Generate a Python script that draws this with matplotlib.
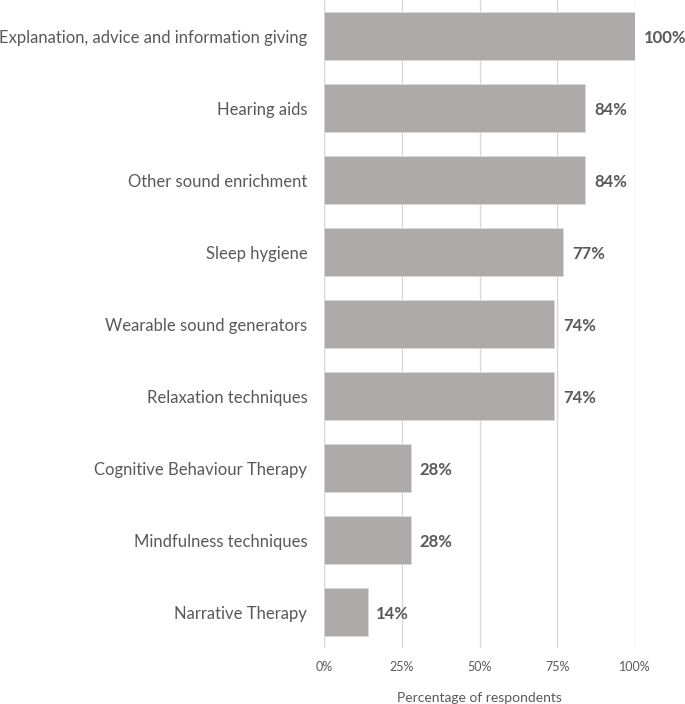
import matplotlib.pyplot as plt
import numpy as np

categories = [
    "Explanation, advice and information giving",
    "Hearing aids",
    "Other sound enrichment",
    "Sleep hygiene",
    "Wearable sound generators",
    "Relaxation techniques",
    "Cognitive Behaviour Therapy",
    "Mindfulness techniques",
    "Narrative Therapy",
]
percent = [100, 84, 84, 77, 74, 74, 28, 28, 14]
xticks = [0, 25, 50, 75, 100]

plt.rcParams['font.family'] = ['Lato', 'DejaVu Sans']
text_col = '#595959'

fig = plt.figure(figsize=(6.85, 7.04), dpi=100)
ax = fig.add_axes([0.473, 0.0795, 0.454, 0.9205])

y = np.arange(len(categories))[::-1]
ax.barh(y, percent, height=0.66, color='#AEAAAA', edgecolor='#D9D9D9', linewidth=0.6, zorder=3)

for yi, v in zip(y, percent):
    ax.text(v + 2.8, yi - 0.03, f"{v}%", va='center', ha='left', fontsize=12,
            fontweight='bold', color=text_col)

ax.set_ylim(-0.5, len(categories) - 0.5)
ax.set_xlim(0, 100)
ax.set_yticks(y)
ax.set_yticklabels(categories, fontsize=12, color=text_col)
ax.set_xticks(xticks)
ax.set_xticklabels([f"{t}%" for t in xticks], fontsize=9, color=text_col)
ax.tick_params(axis='both', length=0)
ax.tick_params(axis='y', pad=12)
ax.tick_params(axis='x', pad=9)
ax.grid(axis='x', color='#D9D9D9', linewidth=1, zorder=0)
for s in ax.spines.values():
    s.set_visible(False)
ax.set_xlabel("Percentage of respondents", fontsize=10, color=text_col, labelpad=14)

fig.savefig('out.png', dpi=100)
